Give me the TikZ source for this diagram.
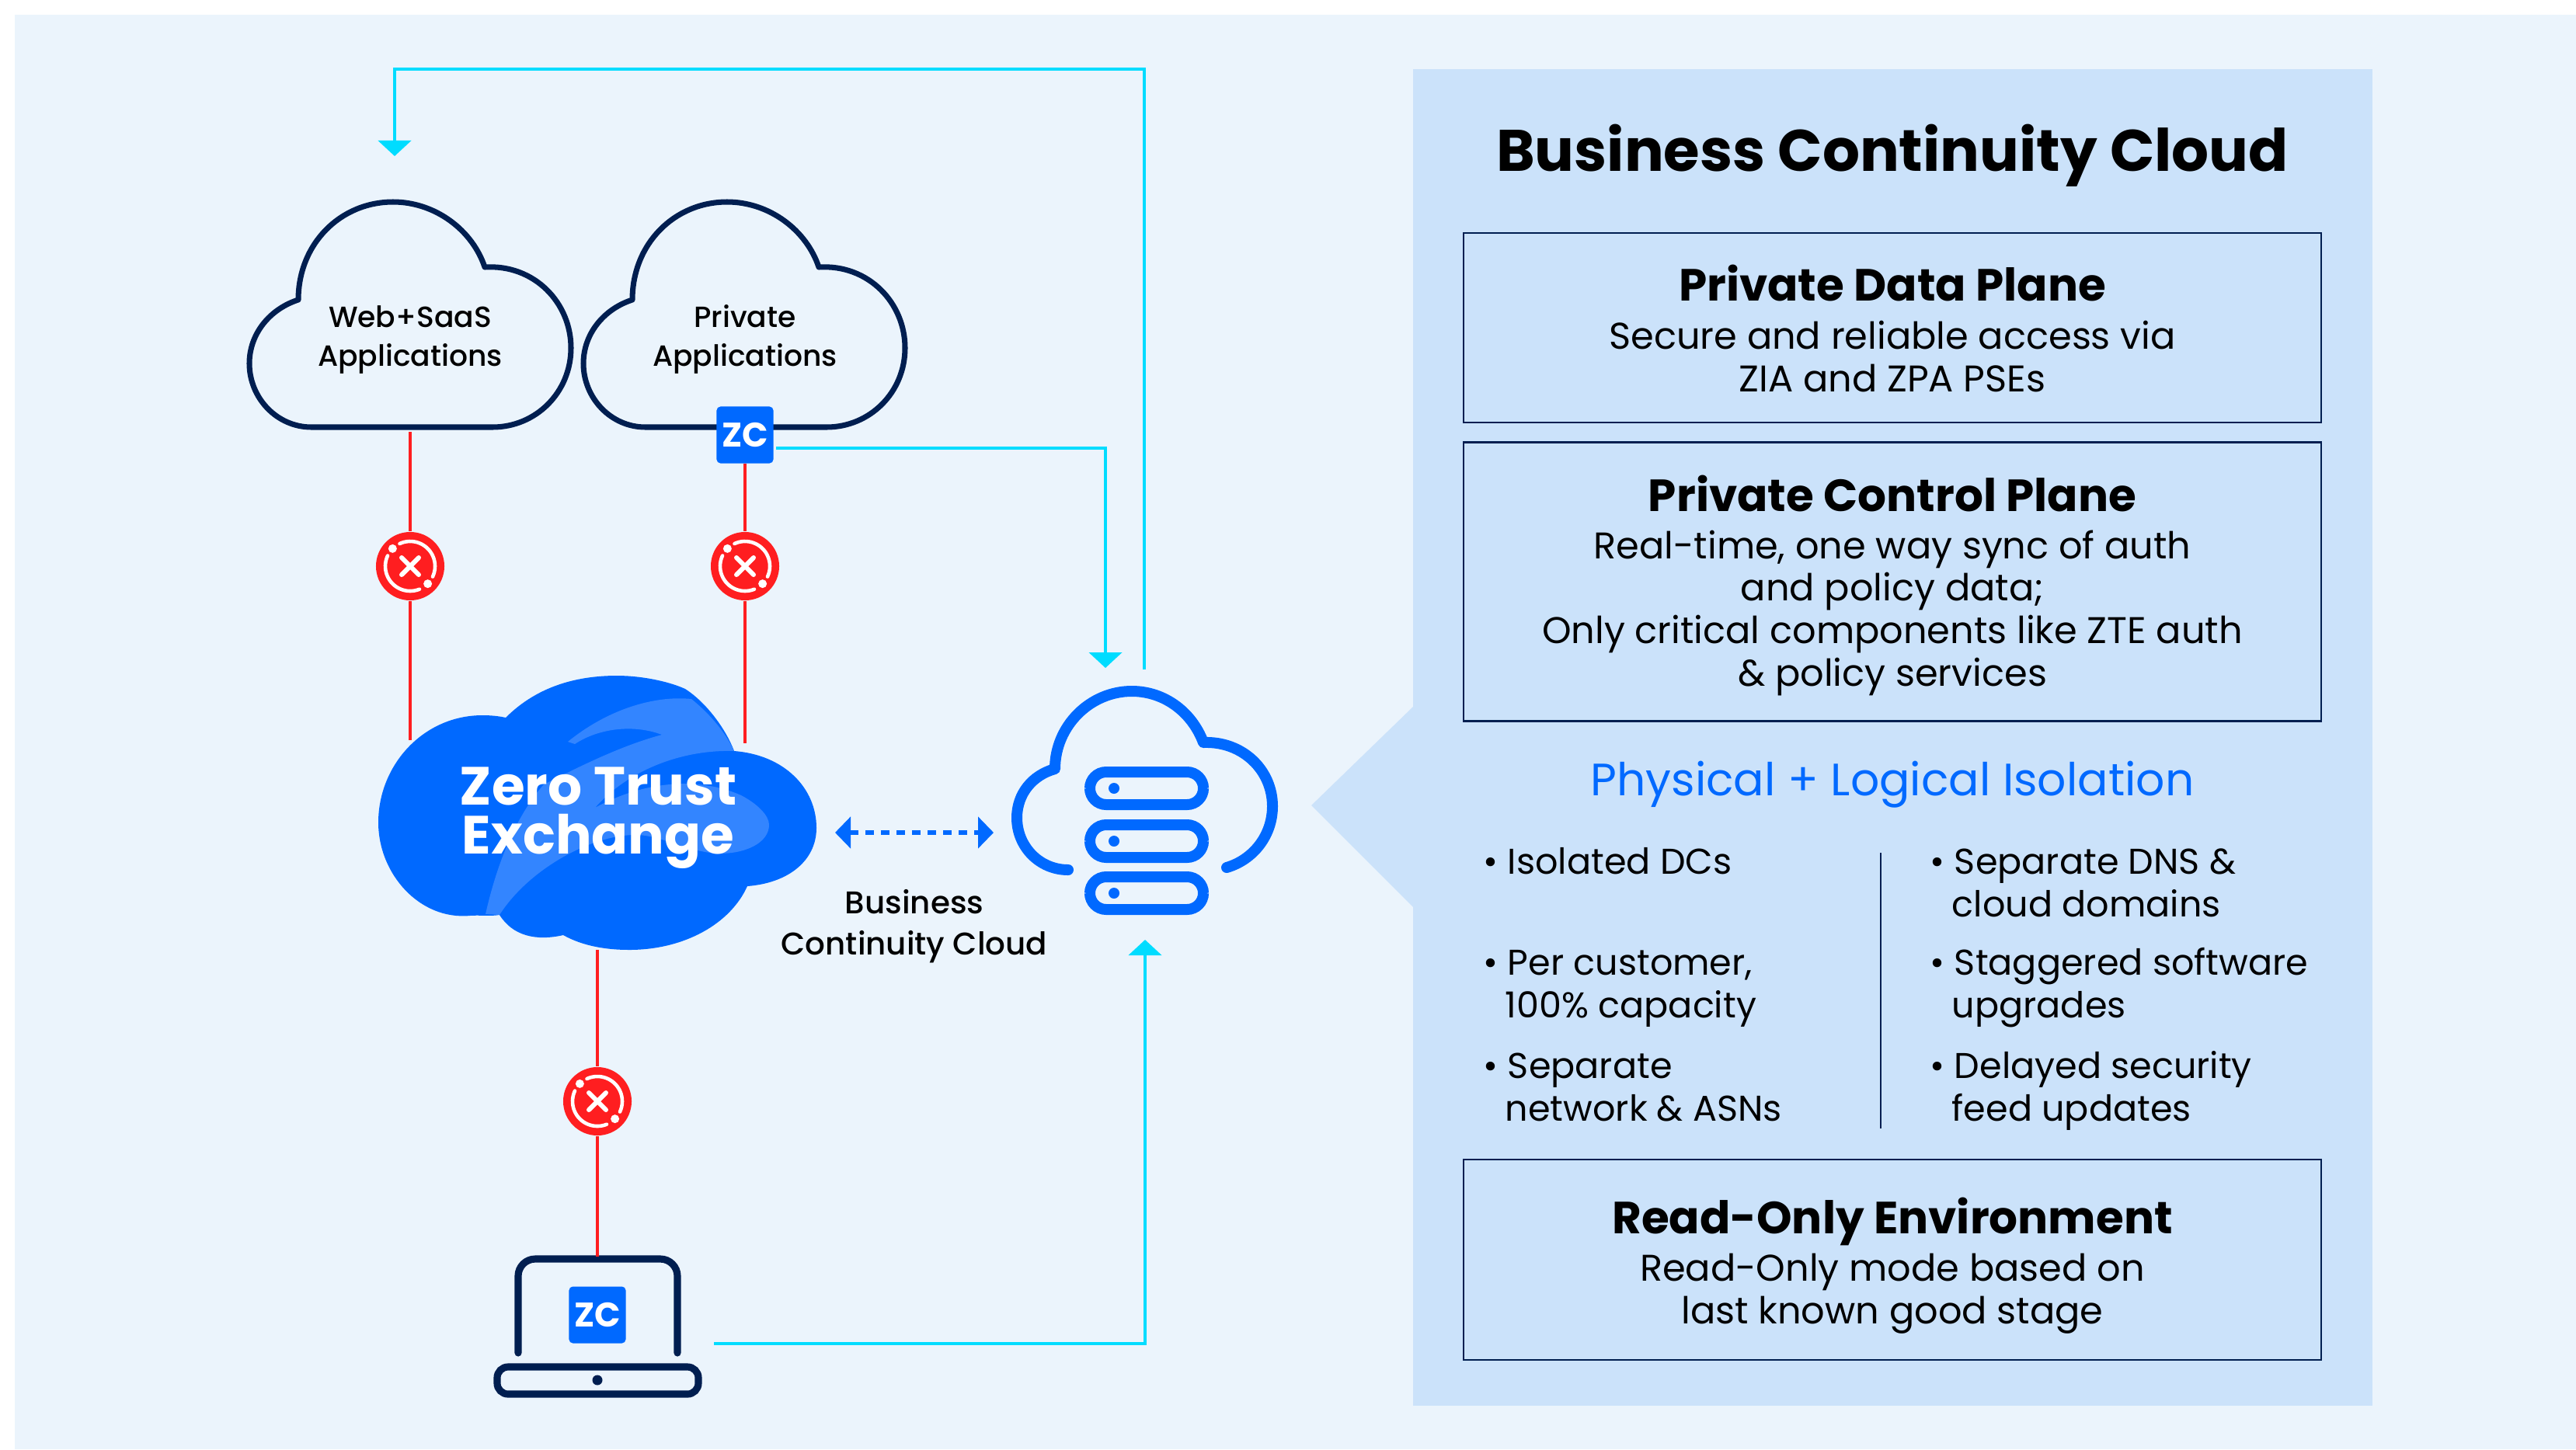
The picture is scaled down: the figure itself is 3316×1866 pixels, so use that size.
\documentclass[tikz,border=0pt]{standalone}
\usepackage{fontspec}
\setmainfont{Poppins}
\newfontfamily\medfont{Poppins Medium}
\usetikzlibrary{arrows.meta}
\definecolor{pagebg}{HTML}{EBF4FC}
\definecolor{panelbg}{HTML}{CBE2FA}
\definecolor{navy}{HTML}{001E50}
\definecolor{zblue}{HTML}{0069FF}
\definecolor{zlight}{HTML}{3385FF}
\definecolor{zcyan}{HTML}{00DCFF}
\definecolor{zred}{HTML}{FF1E20}
\tikzset{
    redline/.style={draw=zred,line width=1.15pt},
    cyanline/.style={draw=zcyan,line width=1.3pt,-{Triangle[length=0.2cm,width=0.42cm]}},
    planebox/.style={draw=navy,line width=0.65pt,minimum width=11.03cm},
    zcbadge/.style={fill=zblue,text=white,rounded corners=0.05cm,minimum size=0.73cm,inner sep=0pt,font=\fontsize{12.5}{12.5}\selectfont\bfseries},
    stopdot/.style={circle,fill=zred,minimum size=0.88cm,inner sep=0pt},
    pillbar/.style={draw=zblue,line width=3.98pt,rounded corners=0.21cm,minimum width=1.46cm,minimum height=0.42cm,inner sep=0pt},
    heading/.style={anchor=base,font=\fontsize{16.5}{18}\selectfont\bfseries},
    bodytext/.style={anchor=base,align=center,font=\fontsize{13.6}{15.53}\selectfont},
    bullettext/.style={anchor=base west,align=left,inner sep=0pt,font=\fontsize{13.1}{15.53}\selectfont},
    applabel/.style={anchor=base,align=center,font=\fontsize{10.7}{14.2}\medfont\selectfont},
    bcclabel/.style={anchor=base,align=center,font=\fontsize{11.5}{14.8}\medfont\selectfont},
    pics/appcloud/.style={code={
        \draw[navy,line width=2pt,line join=round] (384,386) .. controls (384,314) and (438,260) .. (506,260)
            .. controls (560,260) and (608,296) .. (624,344) .. controls (688,340) and (735,390) .. (735,448)
            .. controls (735,505) and (690,550) .. (634,550) -- (401,550) .. controls (356,550) and (321,512) .. (321,468)
            .. controls (321,430) and (347,398) .. (384,386) -- cycle;
    }},
    pics/stopmark/.style={code={
        \draw[white,line width=1.3pt,line cap=round] (68:32) arc (68:205:32);
        \draw[white,line width=1.3pt,line cap=round] (245:32) arc (245:385:32);
        \fill[white] (45:32) circle (5.5);
        \fill[white] (225:32) circle (5.5);
        \draw[white,line width=1.7pt,line cap=round] (-11,-11) -- (11,11) (-11,11) -- (11,-11);
    }},
}
\begin{document}
\begin{tikzpicture}[x=0.01cm,y=-0.01cm]
    \useasboundingbox (0,0) rectangle (3316,1866);
    \fill[pagebg] (19,19) rectangle (3316,1866);

    % right panel
    \fill[panelbg] (1819,89) rectangle (3054,1810);
    \fill[panelbg] (1688,1037) -- (1820,909) -- (1820,1169) -- cycle;
    \node[anchor=base,font=\fontsize{21.45}{25}\selectfont\bfseries] (title) at (2436,220) {Business Continuity Cloud};

    \node[planebox,minimum height=2.44cm] (databox) at (2436,422) {};
    \node[heading] (datahead) at (2436,387) {Private Data Plane};
    \node[bodytext] (databody) at (2436,504) {Secure and reliable access via\\ZIA and ZPA PSEs};

    \node[planebox,minimum height=3.59cm] (ctrlbox) at (2436,749) {};
    \node[heading] (ctrlhead) at (2436,658) {Private Control Plane};
    \node[bodytext] (ctrlbody) at (2436,883) {Real-time, one way sync of auth\\and policy data;\\Only critical components like ZTE auth\\\& policy services};

    \node[anchor=base,text=zblue,font=\fontsize{16.6}{18}\selectfont] (isolhead) at (2436,1024) {Physical + Logical Isolation};

    % bullet lists, base is the last line
    \node[bullettext] (iso1) at (1909,1125) {• Isolated DCs};
    \node[bullettext] (iso2) at (1909,1310) {• Per customer,\\\hspace{0.28cm}100\% capacity};
    \node[bullettext] (iso3) at (1909,1443) {• Separate\\\hspace{0.28cm}network \& ASNs};
    \node[bullettext] (sep1) at (2484,1180) {• Separate DNS \&\\\hspace{0.28cm}cloud domains};
    \node[bullettext] (sep2) at (2484,1310) {• Staggered software\\\hspace{0.28cm}upgrades};
    \node[bullettext] (sep3) at (2484,1443) {• Delayed security\\\hspace{0.28cm}feed updates};
    \coordinate (divtop) at (2421,1098);
    \coordinate (divbot) at (2421,1453);
    \draw[navy,line width=0.7pt] (divtop) -- (divbot);

    \node[planebox,minimum height=2.58cm] (readbox) at (2436,1622) {};
    \node[heading] (readhead) at (2436,1588) {Read-Only Environment};
    \node[bodytext] (readbody) at (2436,1704) {Read-Only mode based on\\last known good stage};

    % app clouds
    \pic at (0,0) {appcloud};
    \pic at (430,0) {appcloud};
    \node[applabel] (weblabel) at (528,471) {Web+SaaS\\Applications};
    \node[applabel] (privlabel) at (959,471) {Private\\Applications};
    \node[zcbadge] (zcpriv) at (959,560) {ZC};

    % zero trust exchange
    \fill[zblue] (487,1059) .. controls (487,985) and (545,921) .. (621,921) .. controls (632,921) and (642,922) .. (651,924)
        .. controls (690,885) and (740,870) .. (794,870) .. controls (825,870) and (860,877) .. (882,887)
        .. controls (910,905) and (935,940) .. (945,967) .. controls (1010,972) and (1051,1015) .. (1051,1066)
        .. controls (1051,1108) and (1015,1137) .. (962,1141) .. controls (940,1190) and (880,1223) .. (810,1223)
        .. controls (780,1223) and (750,1218) .. (725,1204) .. controls (690,1212) and (660,1205) .. (643,1178)
        .. controls (630,1180) and (618,1178) .. (605,1179) .. controls (540,1185) and (487,1125) .. (487,1059) -- cycle;
    \fill[zlight] (625,1177) .. controls (640,1110) and (665,1050) .. (700,1010) .. controls (750,985) and (800,960) .. (852,946)
        .. controls (815,932) and (770,938) .. (740,958) -- (731,955) .. controls (780,915) and (840,895) .. (890,900)
        .. controls (915,920) and (935,945) .. (945,967) .. controls (880,965) and (810,990) .. (766,1040)
        .. controls (830,1005) and (900,1000) .. (954,1024) .. controls (975,1035) and (990,1050) .. (990,1062)
        .. controls (990,1085) and (960,1100) .. (922,1099) .. controls (880,1095) and (850,1075) .. (818,1075)
        .. controls (760,1075) and (680,1120) .. (643,1178) -- cycle;
    \node[anchor=base,text=white,align=center,font=\fontsize{19.7}{17.9}\selectfont\bfseries] (ztlabel) at (770,1099) {Zero Trust\\Exchange};

    % business continuity cloud
    \draw[zblue,line width=3.98pt,line cap=round,line join=round] (1375,1120) .. controls (1338,1120) and (1309,1090) .. (1309,1053)
        .. controls (1309,1022) and (1329,998) .. (1358,990) .. controls (1358,935) and (1403,890) .. (1457,890)
        .. controls (1498,890) and (1534,916) .. (1549,956) .. controls (1600,954) and (1638,992) .. (1638,1038)
        .. controls (1638,1076) and (1613,1107) .. (1579,1117);
    \foreach \y/\n in {1015/a,1083/b,1150/c} {
        \node[pillbar] (pill\n) at (1476,\y) {};
        \fill[zblue] (1434,\y) circle (7);
    }
    \node[bcclabel] (bcclabel) at (1177,1229) {Business\\Continuity Cloud};

    % laptop
    \draw[navy,line width=2.6pt,line cap=round,rounded corners=0.22cm] (667,1742) -- (667,1621) -- (872,1621) -- (872,1742);
    \draw[navy,line width=2.6pt,rounded corners=0.14cm] (640,1760) rectangle (899,1795);
    \fill[navy] (769,1777) circle (6.5);
    \node[zcbadge] (zclap) at (769,1693) {ZC};

    % blocked links
    \node[stopdot] (stopweb) at (528,729) {};
    \node[stopdot] (stoppriv) at (959,729) {};
    \node[stopdot] (stopdev) at (769,1418) {};
    \pic at (stopweb) {stopmark};
    \pic at (stoppriv) {stopmark};
    \pic at (stopdev) {stopmark};
    \coordinate (webout) at (528,556);
    \coordinate (webzt) at (528,953);
    \coordinate (privzt) at (959,957);
    \coordinate (ztout) at (769,1223);
    \coordinate (lapin) at (769,1618);
    \draw[redline] (webout) -- (stopweb);
    \draw[redline] (stopweb) -- (webzt);
    \draw[redline] (zcpriv) -- (stoppriv);
    \draw[redline] (stoppriv) -- (privzt);
    \draw[redline] (ztout) -- (stopdev);
    \draw[redline] (stopdev) -- (lapin);

    % cyan links
    \coordinate (privout) at (999,577);
    \coordinate (bccin) at (1423,860);
    \coordinate (bccout) at (1473,862);
    \coordinate (topbend) at (1473,89);
    \coordinate (webin) at (508,201);
    \coordinate (lapout) at (919,1730);
    \coordinate (bccup) at (1474,1210);
    \draw[cyanline] (privout) -| (bccin);
    \draw[cyanline] (bccout) -- (topbend) -| (webin);
    \draw[cyanline] (lapout) -| (bccup);

    % zt to bcc
    \coordinate (ztright) at (1075,1072);
    \coordinate (bccleft) at (1279,1072);
    \draw[zblue,line width=1.9pt,dash pattern=on 3.1pt off 2.6pt,{Triangle[length=0.2cm,width=0.4cm]}-{Triangle[length=0.2cm,width=0.4cm]}] (ztright) -- (bccleft);
\end{tikzpicture}
\end{document}
